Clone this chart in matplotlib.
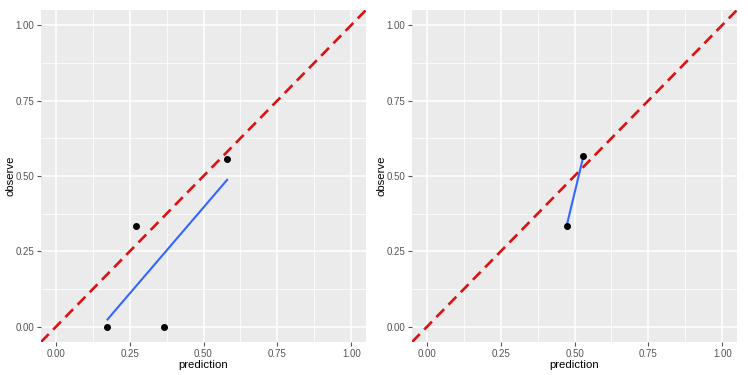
import matplotlib.pyplot as plt
import numpy as np

plt.rcParams['font.family'] = ['Liberation Sans', 'DejaVu Sans']

# calibration data: predicted probability vs observed rate
pred_left = [0.175, 0.27, 0.367, 0.58]
obs_left = [0.0, 0.333, 0.0, 0.556]
pred_right = [0.473, 0.53]
obs_right = [0.333, 0.565]

ticks = [0.0, 0.25, 0.5, 0.75, 1.0]
tick_labels = ['0.00', '0.25', '0.50', '0.75', '1.00']
minor = [0.125, 0.375, 0.625, 0.875]

fig = plt.figure(figsize=(7.48, 3.75), dpi=100)
ax1 = fig.add_axes([41/748, 33/375, 325/748, 332/375])
ax2 = fig.add_axes([412/748, 33/375, 325/748, 332/375])


def panel(ax, x, y):
    ax.set_facecolor('#EBEBEB')
    for s in ax.spines.values():
        s.set_visible(False)
    ax.set_xlim(-0.05, 1.05)
    ax.set_ylim(-0.05, 1.05)
    ax.set_xticks(ticks)
    ax.set_xticklabels(tick_labels)
    ax.set_yticks(ticks)
    ax.set_yticklabels(tick_labels)
    ax.set_xticks(minor, minor=True)
    ax.set_yticks(minor, minor=True)
    ax.grid(True, which='major', color='white', lw=1.1)
    ax.grid(True, which='minor', color='white', lw=0.55)
    ax.set_axisbelow(True)
    ax.tick_params(which='major', length=3, width=0.8, color='#555555',
                   labelsize=7, labelcolor='#555555', pad=2)
    ax.tick_params(which='minor', length=0)
    ax.set_xlabel('prediction', fontsize=8.2, labelpad=1)
    ax.set_ylabel('observe', fontsize=8.2, labelpad=0)

    ax.plot([-0.05, 1.05], [-0.05, 1.05], color='#DD1111', lw=1.9,
            dashes=(4.2, 2.4), zorder=2)
    k, b = np.polyfit(x, y, 1)
    xs = np.array([min(x), max(x)])
    ax.plot(xs, k*xs + b, color='#3366FF', lw=1.5, zorder=3)
    ax.scatter(x, y, s=16, color='black', zorder=4)


panel(ax1, pred_left, obs_left)
panel(ax2, pred_right, obs_right)

fig.savefig('out.png', dpi=100)
